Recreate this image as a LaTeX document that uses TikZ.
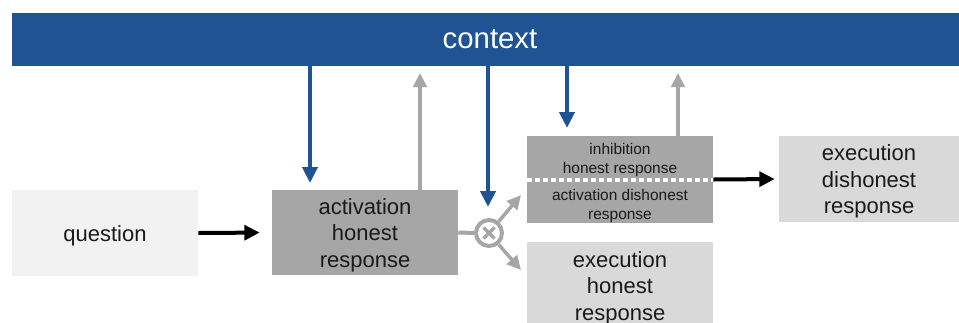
\documentclass[tikz,border=0pt]{standalone}
\usepackage{fontspec}
\setmainfont{Liberation Sans}
\usetikzlibrary{arrows.meta}
\definecolor{ctxblue}{HTML}{1F5393}
\definecolor{midgray}{HTML}{A6A6A6}
\definecolor{lightgrayb}{HTML}{D9D9D9}
\definecolor{palegray}{HTML}{F2F2F2}
\definecolor{txtc}{HTML}{1A1A1A}
\begin{document}
\begin{tikzpicture}[x=0.75pt,y=-0.75pt,
  box/.style={rectangle, draw=none, minimum width=139.5pt, minimum height=64.5pt,
    inner sep=0pt},
  boxtxt/.style={align=center, inner sep=0pt, text=txtc, yshift=-1.9pt,
    font=\fontsize{16.5}{20}\selectfont},
  smalltxt/.style={align=center, inner sep=0pt, text=txtc, font=\fontsize{11.6}{14.25}\selectfont},
  bluearr/.style={draw=ctxblue, line width=3pt, -{Triangle[length=12pt,width=11.25pt]}},
  grayarr/.style={draw=midgray, line width=2.6pt, -{Triangle[length=10.5pt,width=10pt]}},
  blackarr/.style={draw=black, line width=3pt, -{Triangle[length=11.5pt,width=11pt]}}]
\useasboundingbox (0,0) rectangle (959,322);
\clip (0,0) rectangle (959,322);

\node[rectangle, fill=ctxblue, minimum width=717pt, minimum height=39.75pt, inner sep=0pt,
  text=white, font=\fontsize{22}{26}\selectfont] (ctx) at (490,39.5) {context};

\node[box, fill=palegray, label={[boxtxt]center:question}] (q) at (105,233) {};
\node[box, fill=midgray, minimum height=63.75pt,
  label={[boxtxt]center:activation\\honest\\response}] (act) at (365,232.5) {};
\node[box, fill=midgray, minimum height=65.25pt] (inh) at (620,179.5) {};
\node[smalltxt] (inhA) at (620,159.5) {inhibition\\honest response};
\node[smalltxt] (inhB) at (620,206) {activation dishonest\\response};
\draw[white, line width=3pt, dash pattern=on 3.75pt off 2.25pt] (inh.west) -- (inh.east);
\node[box, fill=lightgrayb, minimum width=135pt,
  label={[boxtxt]center:execution\\dishonest\\response}] (exd) at (869,179) {};
\node[box, fill=lightgrayb, minimum height=69pt,
  label={[boxtxt, yshift=1.9pt]center:execution\\honest\\response}] (exh) at (620,288) {};

\node[circle, draw=midgray, line width=3pt, minimum size=19.5pt, inner sep=0pt] (mix) at (489,233) {};
\draw[midgray, line width=2.6pt] ([shift={(-5.5,-5.5)}]mix.center) -- ([shift={(5.5,5.5)}]mix.center);
\draw[midgray, line width=2.6pt] ([shift={(-5.5,5.5)}]mix.center) -- ([shift={(5.5,-5.5)}]mix.center);

\coordinate (b1) at (310,183);
\coordinate (b2) at (488,207);
\coordinate (b3) at (567,128);
\coordinate (g1) at (420,73);
\coordinate (g2) at (678,73);
\coordinate (eu) at (521,195);
\coordinate (ed) at (521,270);

\draw[bluearr] (ctx.south -| b1) -- (b1);
\draw[bluearr] (ctx.south -| b2) -- (b2);
\draw[bluearr] (ctx.south -| b3) -- (b3);
\draw[grayarr] (act.north -| g1) -- (g1);
\draw[grayarr] (inh.north -| g2) -- (g2);

\draw[blackarr, shorten >=9pt] (q.east) -- (act.west);
\draw[blackarr, shorten >=3pt] (inh.east) -- (exd.west);

\draw[midgray, line width=3pt] (act.east) -- (mix.west);
\draw[grayarr] (mix.50) -- (eu);
\draw[grayarr] (mix.-50) -- (ed);
\end{tikzpicture}
\end{document}
